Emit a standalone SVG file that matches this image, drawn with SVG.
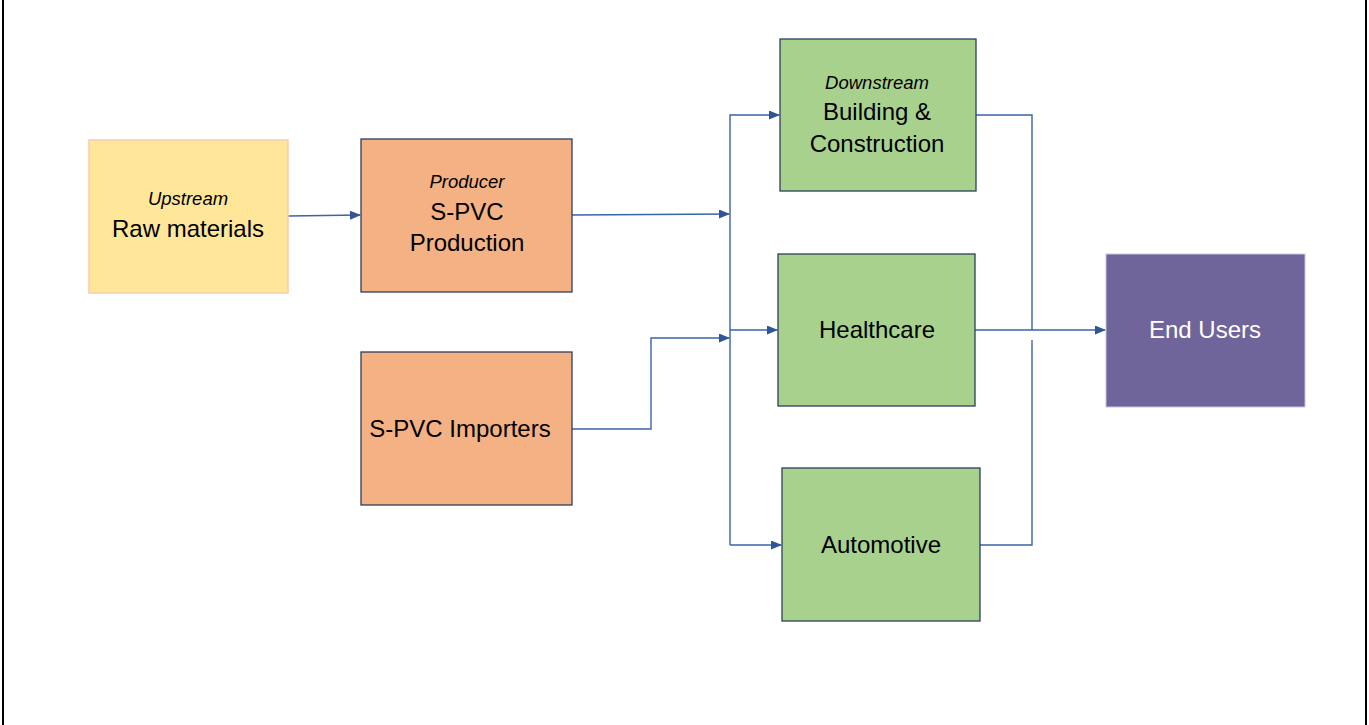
<svg xmlns="http://www.w3.org/2000/svg" width="1369" height="725" viewBox="0 0 1369 725">
<style>
.t{font-family:"Liberation Sans",Arial,sans-serif;font-size:24px;fill:#000;text-anchor:middle}
.i{font-family:"Liberation Sans",Arial,sans-serif;font-size:18.5px;font-style:italic;fill:#000;text-anchor:middle}
.c{fill:none;stroke:#3A63AC;stroke-width:1.4}
.g{fill:#A9D18E;stroke:#2F3E5C;stroke-width:1.3}
.o{fill:#F4B183;stroke:#2F3E5C;stroke-width:1.3}
</style>
<defs>
<marker id="a" markerWidth="11" markerHeight="9" refX="10" refY="4.5" orient="auto" markerUnits="userSpaceOnUse">
<path d="M0,0 L11,4.5 L0,9 z" fill="#2F5597"/>
</marker>
</defs>
<rect x="0" y="0" width="1369" height="725" fill="#fff"/>
<line x1="3" y1="0" x2="3" y2="725" stroke="#000" stroke-width="2"/>
<line x1="1366" y1="0" x2="1366" y2="725" stroke="#000" stroke-width="2"/>
<g id="connectors">
<path class="c" d="M288,216 L360,215" marker-end="url(#a)"/>
<path class="c" d="M572,215 L729,214" marker-end="url(#a)"/>
<path class="c" d="M572,429 L651,429 L651,338 L729,338" marker-end="url(#a)"/>
<path class="c" d="M730,545 L730,115 L779,115" marker-end="url(#a)"/>
<path class="c" d="M730,330 L777,330" marker-end="url(#a)"/>
<path class="c" d="M730,545 L781,545" marker-end="url(#a)"/>
<path class="c" d="M976,115 L1032,115 L1032,330"/>
<path class="c" d="M980,545 L1032,545 L1032,340"/>
<path class="c" d="M975,330 L1105,330" marker-end="url(#a)"/>
</g>
<g id="raw">
<rect x="89" y="140" width="199" height="153" fill="#FFE699" stroke="#F8CBAD" stroke-width="1.5"/>
<text class="i" x="188" y="205">Upstream</text>
<text class="t" x="188" y="237">Raw materials</text>
</g>
<g id="production">
<rect class="o" x="361" y="139" width="211" height="153"/>
<text class="i" x="467" y="188">Producer</text>
<text class="t" x="467" y="220">S-PVC</text>
<text class="t" x="467" y="251">Production</text>
</g>
<g id="importers">
<rect class="o" x="361" y="352" width="211" height="153"/>
<text class="t" x="460" y="437">S-PVC Importers</text>
</g>
<g id="building">
<rect class="g" x="780" y="39" width="196" height="152"/>
<text class="i" x="877" y="89">Downstream</text>
<text class="t" x="877" y="120">Building &amp;</text>
<text class="t" x="877" y="152">Construction</text>
</g>
<g id="healthcare">
<rect class="g" x="778" y="254" width="197" height="152"/>
<text class="t" x="877" y="338">Healthcare</text>
</g>
<g id="automotive">
<rect class="g" x="782" y="468" width="198" height="153"/>
<text class="t" x="881" y="553">Automotive</text>
</g>
<g id="endusers">
<rect x="1106" y="254" width="199" height="153" fill="#6F659A" stroke="#C9C3E0" stroke-width="1"/>
<text class="t" x="1205" y="338" style="fill:#fff">End Users</text>
</g>
</svg>
